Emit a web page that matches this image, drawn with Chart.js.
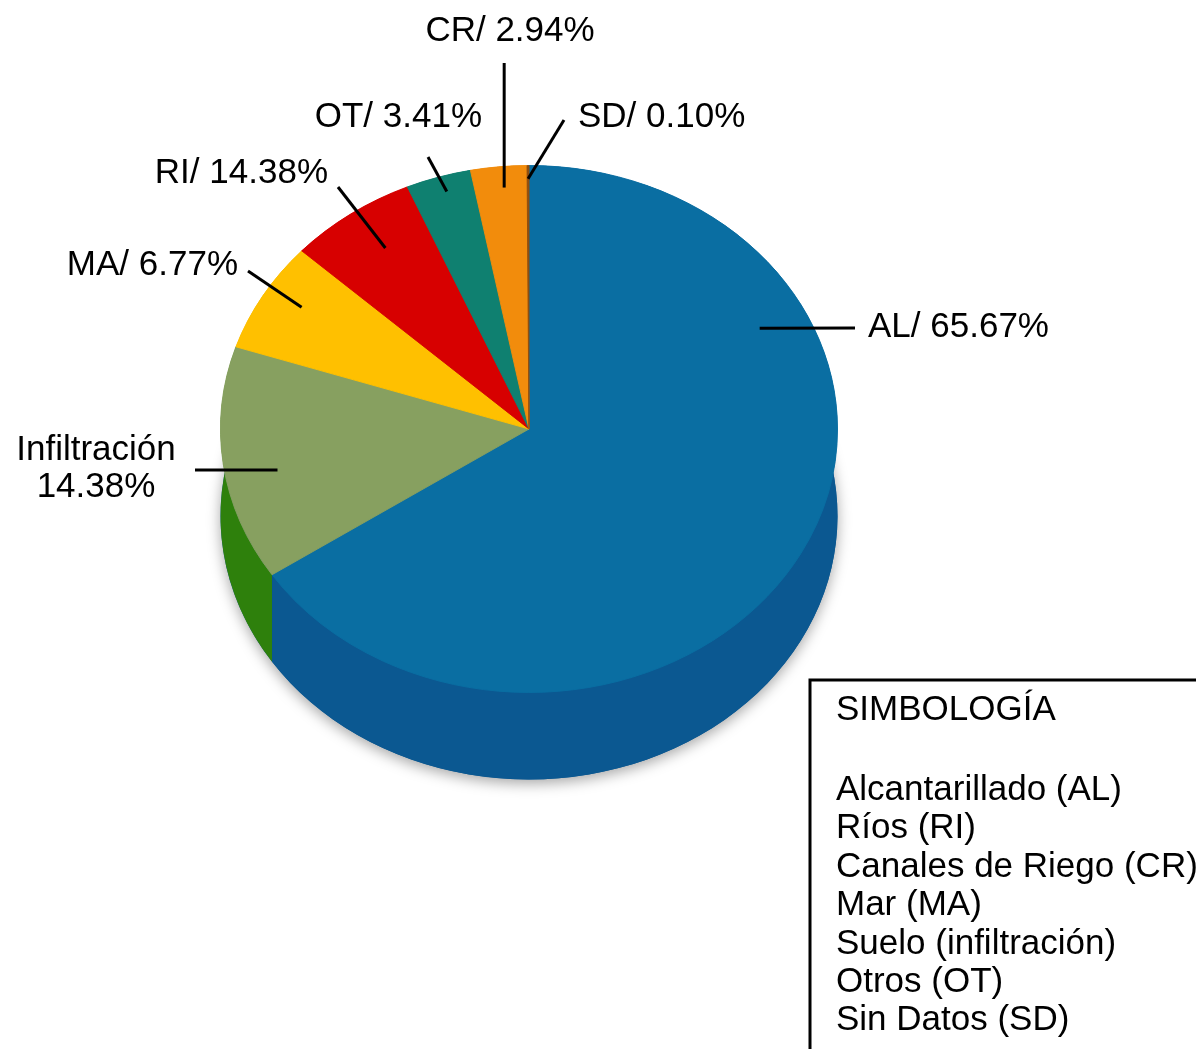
<!DOCTYPE html>
<html>
<head>
<meta charset="utf-8">
<title>Disposición de aguas residuales</title>
<script src="https://cdn.jsdelivr.net/npm/chart.js@4.4.1/dist/chart.umd.min.js"></script>
<style>
    html, body { margin: 0; padding: 0; background: #fff; overflow: hidden; }
    #wrap { position: relative; width: 1196px; height: 1049px; }
</style>
</head>
<body>
<div id="wrap"><canvas id="pieChart" width="1196" height="1049"></canvas></div>
<script>
// Slices, clockwise from 12 o'clock
const categories = ['AL', 'Infiltración', 'MA', 'RI', 'OT', 'CR', 'SD'];
const shares = [65.67, 14.38, 6.77, 6.73, 3.41, 2.94, 0.10];
// printed labels (RI is printed as 14.38% in the original)
const sliceLabels = [['AL/ 65.67%'], ['Infiltración', '14.38%'], ['MA/ 6.77%'], ['RI/ 14.38%'], ['OT/ 3.41%'], ['CR/ 2.94%'], ['SD/ 0.10%']];
const topColors = ['#0a6ea2', '#87a060', '#ffc000', '#d70000', '#0f8070', '#f28c0c', '#8f4e10'];
const sideColors = ['#0b5891', '#2e800c', '#d9a000', '#a80000', '#0a6050', '#c87008', '#6a3a0c'];

const legendTitle = 'SIMBOLOGÍA';
const legendItems = ['Alcantarillado (AL)', 'Ríos (RI)', 'Canales de Riego (CR)', 'Mar (MA)', 'Suelo (infiltración)', 'Otros (OT)', 'Sin Datos (SD)'];

const squash = 0.854;   // vertical flattening of the pie
const depthPx = 87;     // thickness of the 3d side
const FONT = '35px "Liberation Sans", Arial, sans-serif';

// where each leader line starts inside its slice (t = along the arc, f = fraction of radius)
// and where it ends / where the text goes
const labelLayout = [
    { t: 0.266, f: 0.84, end: [855, 328], tx: 868, align: 'left', base: [337] },
    { t: 0.44, f: 0.83, end: [195, 470], tx: 96, align: 'center', base: [460, 497] },
    { t: 0.57, f: 0.87, end: [248, 271], tx: 238, align: 'right', base: [275] },
    { t: 0.55, f: 0.83, end: [338, 187], tx: 328, align: 'right', base: [183] },
    { t: 0.55, f: 0.94, end: [428, 157], tx: 482, align: 'right', base: [127] },
    { t: 0.56, f: 0.92, end: [null, 63], tx: 510, align: 'center', base: [41] },
    { t: 0.5, f: 0.95, end: [564, 120], tx: 578, align: 'left', base: [127] }
];

// squashes the pie and draws the side walls under it
const pie3d = {
    id: 'pie3d',
    beforeDatasetsDraw(chart) {
        const ctx = chart.ctx;
        const arcs = chart.getDatasetMeta(0).data;
        const cy = arcs[0].y;
        const d = depthPx / squash;
        ctx.save();
        ctx.translate(0, cy);
        ctx.scale(1, squash);
        ctx.translate(0, -cy);

        // soft shadow under the base
        ctx.save();
        ctx.shadowColor = 'rgba(0,0,0,0.35)';
        ctx.shadowBlur = 14;
        ctx.shadowOffsetY = 4;
        ctx.beginPath();
        ctx.arc(arcs[0].x, cy + d, arcs[0].outerRadius, 0, Math.PI * 2);
        ctx.fillStyle = sideColors[0];
        ctx.fill();
        ctx.restore();

        arcs.forEach((arc, i) => {
            const { x, y, startAngle, endAngle, outerRadius } = arc.getProps(['x', 'y', 'startAngle', 'endAngle', 'outerRadius'], true);
            const r = outerRadius;
            ctx.beginPath();
            ctx.arc(x, y, r, startAngle, endAngle);
            ctx.lineTo(x + Math.cos(endAngle) * r, y + d + Math.sin(endAngle) * r);
            ctx.arc(x, y + d, r, endAngle, startAngle, true);
            ctx.closePath();
            ctx.fillStyle = sideColors[i];
            ctx.fill();
        });
    },
    afterDatasetsDraw(chart) {
        chart.ctx.restore();
    }
};

// leader lines, slice labels and the legend box
const annotations = {
    id: 'annotations',
    afterDraw(chart) {
        const ctx = chart.ctx;
        const arcs = chart.getDatasetMeta(0).data;
        ctx.save();
        ctx.font = FONT;
        ctx.fillStyle = '#000';
        ctx.strokeStyle = '#000';
        ctx.lineWidth = 3;

        arcs.forEach((arc, i) => {
            const lay = labelLayout[i];
            const a = arc.startAngle + lay.t * (arc.endAngle - arc.startAngle);
            const px = arc.x + Math.cos(a) * arc.outerRadius * lay.f;
            const py = arc.y + Math.sin(a) * arc.outerRadius * lay.f * squash;
            const ex = lay.end[0] === null ? px : lay.end[0];
            ctx.beginPath();
            ctx.moveTo(px, py);
            ctx.lineTo(ex, lay.end[1]);
            ctx.stroke();

            ctx.textAlign = lay.align;
            ctx.textBaseline = 'alphabetic';
            sliceLabels[i].forEach((line, j) => {
                ctx.fillText(line, lay.tx, lay.base[j]);
            });
        });

        // legend box (open to the right and bottom, like the original)
        ctx.beginPath();
        ctx.moveTo(810, 1060);
        ctx.lineTo(810, 680);
        ctx.lineTo(1210, 680);
        ctx.stroke();

        ctx.textAlign = 'left';
        ctx.fillText(legendTitle, 836, 720);
        legendItems.forEach((item, i) => {
            ctx.fillText(item, 836, 800 + i * 38.4);
        });
        ctx.restore();
    }
};

new Chart(document.getElementById('pieChart'), {
    type: 'pie',
    data: {
        labels: categories,
        datasets: [{
            data: shares,
            backgroundColor: topColors,
            borderColor: topColors,
            borderWidth: 1,
            clip: false
        }]
    },
    options: {
        responsive: false,
        animation: false,
        layout: { padding: { left: 220, right: 358, top: 120, bottom: 311 } },
        plugins: {
            legend: { display: false },
            tooltip: { enabled: false }
        }
    },
    plugins: [pie3d, annotations]
});
</script>
</body>
</html>
